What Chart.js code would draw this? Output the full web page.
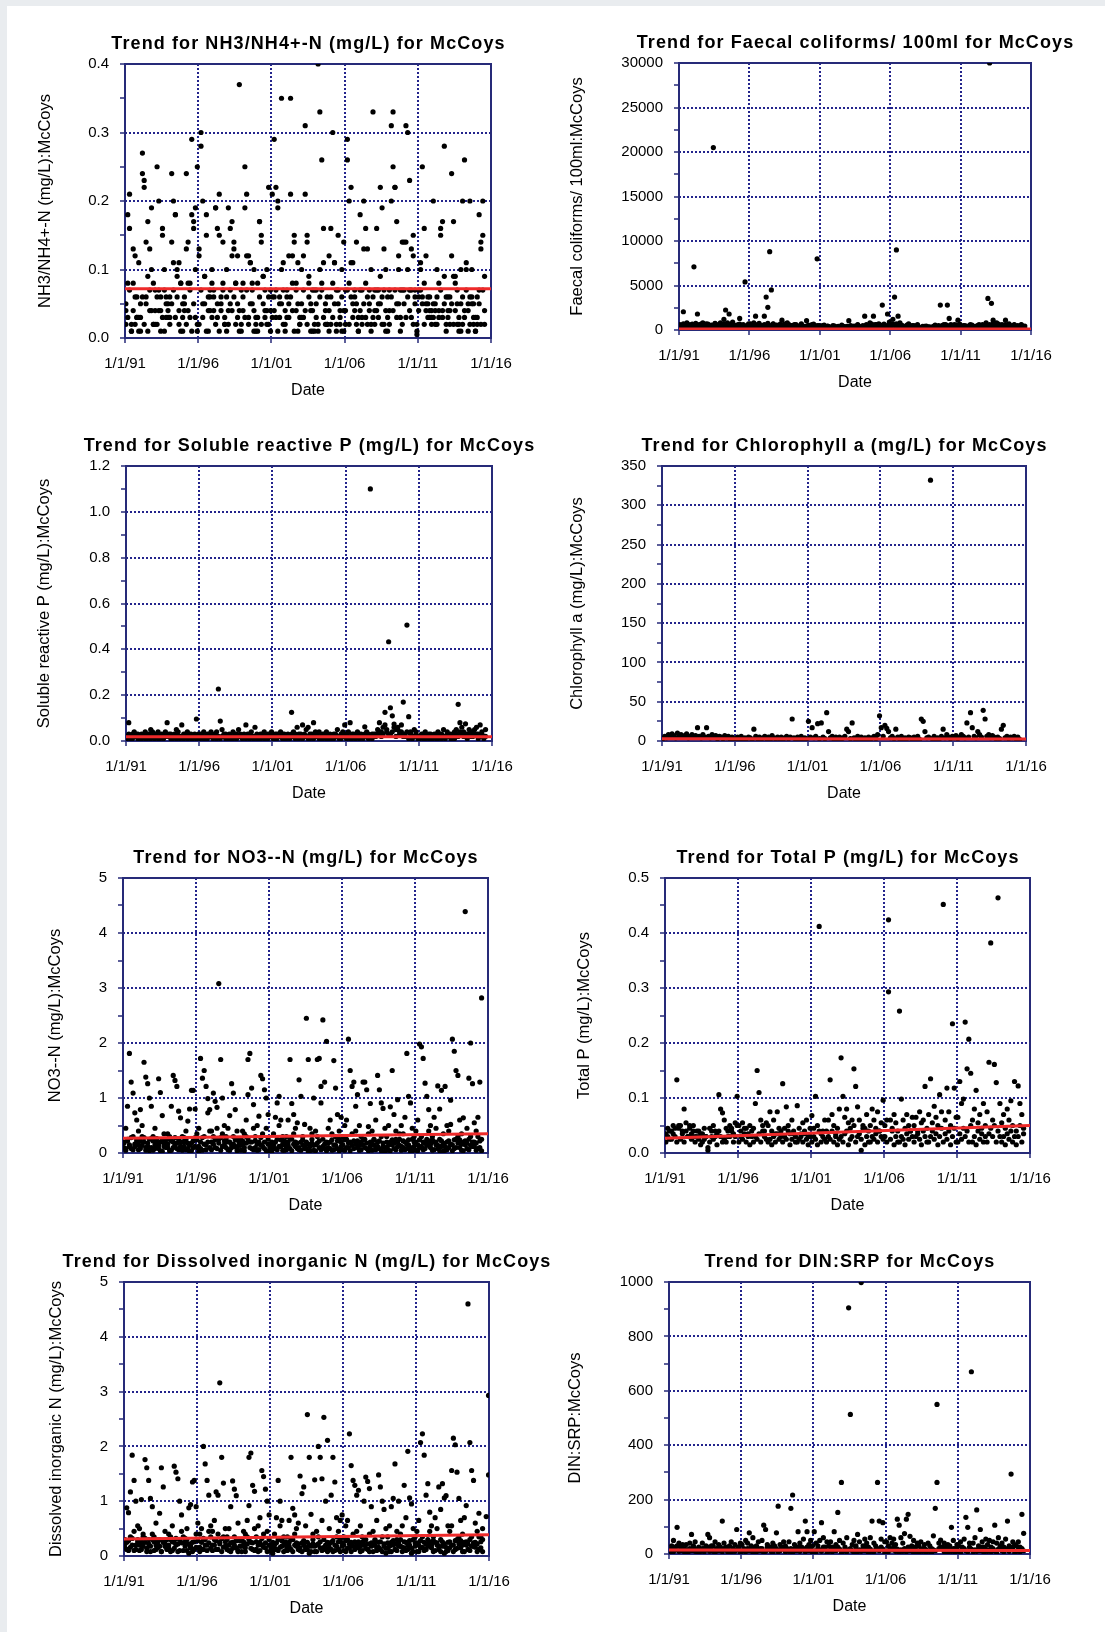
<!DOCTYPE html>
<html>
<head>
<meta charset="utf-8">
<script src="https://cdn.jsdelivr.net/npm/chart.js@4.4.1/dist/chart.umd.min.js"></script>
<style>
html,body{margin:0;padding:0;background:#e9ecef;width:1105px;height:1632px;overflow:hidden;}
#page{position:absolute;left:7px;top:6px;width:1098px;height:1626px;background:#ffffff;}
canvas{position:absolute;}
</style>
</head>
<body>
<div id="page"></div>
<script>
// ---------------- DATA ----------------
const xTickLabels = ['1/1/91','1/1/96','1/1/01','1/1/06','1/1/11','1/1/16'];
const trendYears = [1991, 2016];

// sampling dates (decimal years), 8 per year
const sampleDates = [
1991.06,1991.19,1991.31,1991.44,1991.56,1991.69,1991.81,1991.94,
1992.06,1992.19,1992.31,1992.44,1992.56,1992.69,1992.81,1992.94,
1993.06,1993.19,1993.31,1993.44,1993.56,1993.69,1993.81,1993.94,
1994.06,1994.19,1994.31,1994.44,1994.56,1994.69,1994.81,1994.94,
1995.06,1995.19,1995.31,1995.44,1995.56,1995.69,1995.81,1995.94,
1996.06,1996.19,1996.31,1996.44,1996.56,1996.69,1996.81,1996.94,
1997.06,1997.19,1997.31,1997.44,1997.56,1997.69,1997.81,1997.94,
1998.06,1998.19,1998.31,1998.44,1998.56,1998.69,1998.81,1998.94,
1999.06,1999.19,1999.31,1999.44,1999.56,1999.69,1999.81,1999.94,
2000.06,2000.19,2000.31,2000.44,2000.56,2000.69,2000.81,2000.94,
2001.06,2001.19,2001.31,2001.44,2001.56,2001.69,2001.81,2001.94,
2002.06,2002.19,2002.31,2002.44,2002.56,2002.69,2002.81,2002.94,
2003.06,2003.19,2003.31,2003.44,2003.56,2003.69,2003.81,2003.94,
2004.06,2004.19,2004.31,2004.44,2004.56,2004.69,2004.81,2004.94,
2005.06,2005.19,2005.31,2005.44,2005.56,2005.69,2005.81,2005.94,
2006.06,2006.19,2006.31,2006.44,2006.56,2006.69,2006.81,2006.94,
2007.06,2007.19,2007.31,2007.44,2007.56,2007.69,2007.81,2007.94,
2008.06,2008.19,2008.31,2008.44,2008.56,2008.69,2008.81,2008.94,
2009.06,2009.19,2009.31,2009.44,2009.56,2009.69,2009.81,2009.94,
2010.06,2010.19,2010.31,2010.44,2010.56,2010.69,2010.81,2010.94,
2011.06,2011.19,2011.31,2011.44,2011.56,2011.69,2011.81,2011.94,
2012.06,2012.19,2012.31,2012.44,2012.56,2012.69,2012.81,2012.94,
2013.06,2013.19,2013.31,2013.44,2013.56,2013.69,2013.81,2013.94,
2014.06,2014.19,2014.31,2014.44,2014.56,2014.69,2014.81,2014.94,
2015.06,2015.19,2015.31,2015.44,2015.56,2015.69,2015.81,2015.97
];

// NH3/NH4+-N (mg/L)
const nh3YLabels = ['0.0','0.1','0.2','0.3','0.4'];
const nh3Trend = [0.072, 0.072];
const nh3A = [
.04,.08,.21,.02,.13,.06,.03,.11,
.05,.27,.22,.14,.09,.04,.19,.02,
.02,.25,.07,.04,.16,.10,.03,.05,
.03,.24,.11,.18,.09,.04,.08,.01,
.05,.24,.14,.08,.29,.17,.10,.25,
.13,.30,.20,.09,.18,.06,.04,.10,
.04,.19,.16,.21,.06,.14,.02,.10,
.19,.05,.17,.14,.08,.03,.37,.02,
.04,.25,.21,.12,.11,.05,.10,.02,
.08,.17,.15,.09,.04,.10,.22,.07,
.21,.29,.22,.20,.06,.35,.11,.04,
.06,.12,.35,.08,.15,.04,.11,.02,
.05,.12,.31,.15,.09,.04,.07,.02,
.07,.40,.33,.26,.11,.05,.02,.12,
.16,.30,.11,.07,.15,.04,.10,.14,
.07,.29,.20,.22,.11,.06,.14,.03,
.18,.07,.20,.16,.13,.05,.10,.33,
.07,.16,.05,.22,.19,.13,.10,.03,
.07,.31,.33,.22,.17,.12,.07,.14,
.14,.31,.30,.23,.13,.12,.07,.02,
.07,.11,.25,.16,.12,.06,.04,.03,
.20,.05,.10,.04,.16,.03,.28,.06,
.04,.02,.24,.17,.09,.05,.01,.10,
.20,.26,.11,.05,.20,.10,.03,.01,
.02,.18,.14,.20,.09,null,null,null
];
const nh3B = [
.02,.18,.16,.01,.08,.12,.03,.01,
.01,.24,.23,.06,.17,.13,.10,.08,
.04,.06,.20,.01,.15,.07,.06,.03,
.06,.14,.20,.18,.10,.11,.08,.03,
.04,.13,.08,.03,.18,.16,.19,.01,
.12,.28,.05,.09,.15,.01,.06,.08,
.06,.19,.03,.15,.05,.08,.02,.01,
.04,.16,.12,.13,.08,.12,.04,.01,
.08,.19,.12,.03,.11,.08,.01,.01,
.01,.17,.14,.09,.03,.04,.02,.01,
.06,.06,.03,.19,.05,.10,.02,.01,
.03,.05,.21,.12,.14,.08,.01,.02,
.10,.03,.21,.14,.08,.05,.01,.01,
.03,.01,.10,.08,.16,.04,.02,.01,
.02,.08,.11,.02,.05,.03,.01,.01,
.02,.26,.08,.11,.05,.04,.02,.01,
.04,.03,.13,.08,.02,.07,.01,.03,
.02,.04,.07,.09,.06,.02,.01,.01,
.04,.20,.25,.22,.05,.10,.03,.02,
.05,.14,.10,.07,.03,.15,.06,.005,
.06,.10,.05,.08,.04,.05,.03,.02,
.03,.04,.02,.08,.15,.17,.09,.01,
.06,.04,.12,.09,.08,.02,.03,.01,
.02,.04,.10,.01,.06,.05,.02,.01,
.06,.07,.13,.15,.04,null,null,null
];
const nh3C = [
.05,.03,.07,.01,.04,.02,.06,.03,
.03,.06,.02,.05,.01,.07,.04,.02,
.07,.02,.04,.06,.03,.01,.05,.04,
.02,.05,.07,.03,.06,.02,.01,.05,
.06,.02,.04,.07,.01,.05,.03,.02,
.02,.07,.03,.05,.01,.04,.07,.03,
.07,.02,.05,.01,.04,.07,.03,.06,
.02,.07,.04,.06,.02,.05,.01,.07,
.06,.03,.07,.02,.05,.07,.04,.03,
.03,.06,.02,.05,.07,.02,.06,.04,
.03,.04,.07,.01,.03,.05,.07,.02,
.07,.03,.06,.04,.01,.07,.05,.03,
.03,.07,.04,.02,.06,.01,.04,.07,
.05,.02,.06,.07,.03,.02,.06,.04,
.06,.03,.05,.01,.07,.02,.06,.04,
.04,.07,.02,.06,.03,.07,.05,.01,
.07,.02,.05,.03,.06,.04,.02,.06,
.04,.07,.03,.05,.02,.07,.04,.06,
.02,.06,.04,.07,.03,.05,.01,.07,
.07,.03,.06,.04,.07,.02,.05,.01,
.04,.07,.06,.02,.05,.03,.06,.04,
.05,.02,.06,.03,.07,.04,.05,.02,
.03,.06,.05,.02,.04,.07,.02,.05,
.06,.03,.07,.04,.02,.06,.05,.03,
.03,.05,.02,.07,.02,null,null,null
];

// Faecal coliforms / 100ml
const faecalYLabels = ['0','5000','10000','15000','20000','25000','30000'];
const faecalTrend = [100, 100];
const faecal = [
150,500,2050,300,80,600,250,400,
7100,350,1800,200,650,100,450,300,
200,500,80,20500,700,300,150,800,
400,1200,2250,600,1800,300,900,150,
250,600,1300,400,200,5400,350,100,
500,300,800,1550,200,600,150,400,
1550,3700,2550,8800,4500,700,300,500,
400,200,1100,600,300,800,150,500,
300,600,200,450,100,700,350,250,
1050,400,200,600,300,150,8000,500,
300,500,100,200,400,150,300,80,
200,100,350,50,250,400,150,300,
1050,200,400,100,300,600,250,150,
300,1550,500,200,800,400,1550,600,
400,700,300,2800,500,200,1800,900,
600,1200,3700,9000,1550,800,500,300,
400,200,700,300,500,100,250,600,
150,300,100,400,200,350,80,250,
300,150,400,200,2800,500,300,600,
2800,1300,400,200,600,300,1100,500,
300,500,200,400,150,600,300,250,
200,400,600,150,300,500,800,3550,
30000,3000,1100,400,800,300,200,600,
300,1100,200,500,400,150,600,300,
200,400,550,300,150,null,null,null
];
const faecalB = [
600,300,700,450,800,200,550,650,
500,750,300,600,400,800,250,700,
650,400,550,300,750,450,600,350,
300,700,500,800,350,650,400,550,
450,250,650,350,600,300,500,700,
700,450,300,600,400,750,500,350,
600,350,750,500,300,650,400,550,
350,650,400,550,700,300,600,450,
500,300,600,350,450,550,250,400,
400,550,300,450,650,250,500,350,
250,400,550,300,450,350,200,500,
450,300,400,250,550,200,350,400,
350,500,250,450,300,550,400,250,
500,350,600,400,450,650,300,550,
600,450,550,350,650,500,400,700,
450,650,500,700,350,600,550,400,
350,550,300,450,250,500,350,400,
300,200,400,250,450,300,350,200,
400,550,300,500,350,450,600,250,
500,350,600,450,300,550,400,650,
400,250,500,350,450,300,550,400,
350,500,300,450,600,400,550,450,
600,450,700,350,550,650,400,500,
450,600,350,700,500,400,550,350,
500,350,600,400,450,null,null,null
];

// Soluble reactive P (mg/L)
const srpYLabels = ['0.0','0.2','0.4','0.6','0.8','1.0','1.2'];
const srpTrend = [0.019, 0.019];
const srpA = [
.02,.08,.01,.03,.04,.02,.03,.01,
.03,.02,.04,.01,.03,.05,.02,.03,
.02,.04,.01,.03,.02,.04,.08,.02,
.03,.01,.02,.05,.04,.02,.07,.03,
.02,.04,.03,.01,.02,.03,.096,.02,
.03,.02,.04,.01,.03,.02,.04,.01,
.02,.04,.227,.087,.05,.02,.03,.01,
.03,.01,.04,.02,.03,.05,.02,.01,
.02,.07,.03,.01,.04,.02,.06,.03,
.01,.03,.02,.04,.01,.03,.02,.04,
.02,.01,.03,.02,.04,.01,.03,.02,
.03,.02,.125,.04,.01,.06,.03,.02,
.07,.02,.05,.06,.01,.03,.08,.02,
.02,.04,.01,.03,.02,.04,.01,.03,
.01,.03,.02,.05,.01,.03,.04,.07,
.02,.04,.08,.01,.03,.02,.04,.01,
.03,.02,.062,.04,.01,1.10,.03,.02,
.03,.05,.08,.04,.06,.125,.05,.433,
.145,.11,.074,.05,.06,.04,.07,.17,
.03,.506,.106,.04,.02,.05,.03,.01,
.02,.03,.01,.04,.02,.03,.01,.02,
.03,.01,.04,.02,.03,.05,.02,.04,
.02,.03,.01,.04,.05,.16,.08,.06,
.04,.075,.03,.05,.02,.04,.03,.06,
.03,.07,.04,.02,.05,null,null,null
];
const srpB = [
.01,.03,.02,.01,.02,.03,.01,.02,
.01,.02,.01,.03,.02,.01,.04,.01,
.03,.01,.02,.02,.01,.03,.02,.03,
.01,.02,.03,.01,.02,.01,.02,.01,
.03,.01,.02,.03,.01,.02,.01,.03,
.01,.03,.01,.02,.01,.03,.02,.02,
.03,.01,.02,.01,.02,.03,.01,.02,
.01,.02,.01,.03,.01,.02,.03,.02,
.03,.01,.02,.03,.02,.01,.02,.01,
.02,.01,.03,.01,.02,.01,.03,.02,
.01,.03,.01,.03,.02,.03,.01,.01,
.02,.01,.03,.02,.03,.02,.01,.03,
.01,.03,.02,.01,.03,.02,.01,.04,
.03,.01,.02,.01,.03,.01,.02,.01,
.02,.01,.03,.02,.02,.01,.02,.03,
.01,.02,.01,.03,.02,.01,.02,.03,
.02,.01,.03,.02,.03,.02,.01,.03,
.02,.03,.04,.02,.03,.07,.04,.03,
.03,.04,.06,.02,.05,.03,.04,.02,
.02,.04,.01,.03,.01,.02,.04,.02,
.01,.02,.03,.01,.02,.01,.03,.01,
.02,.03,.01,.03,.01,.02,.01,.03,
.03,.01,.02,.01,.03,.02,.04,.03,
.02,.03,.01,.03,.04,.02,.05,.03,
.01,.02,.03,.01,.02,null,null,null
];

// Chlorophyll a
const chlYLabels = ['0','50','100','150','200','250','300','350'];
const chlTrend = [2.8, 2.6];
const chl = [
3,6,4,8,5,9,7,4,
10,6,8,5,7,9,4,6,
8,5,7,17,6,4,8,5,
17,6,4,8,5,7,3,6,
5,3,7,4,6,2,5,3,
2,5,3,6,2,4,3,5,
4,2,15,6,3,5,2,4,
6,3,5,2,7,4,3,5,
3,5,2,4,6,3,5,28,
4,2,5,3,6,2,4,3,
25,5,17,4,6,22,3,23,
5,3,36,12,4,6,2,5,
3,5,2,4,6,15,12,3,
23,4,2,6,3,5,2,4,
3,5,2,4,6,3,8,32,
17,6,20,16,12,4,6,3,
15,5,3,6,2,4,3,5,
4,2,5,3,6,2,28,25,
12,4,5,332,3,6,2,4,
3,6,15,4,8,5,3,6,
4,7,3,5,8,6,4,23,
5,36,17,6,4,12,8,5,
39,28,6,8,4,7,5,3,
5,3,15,20,4,6,3,5,
4,6,3,5,2,null,null,null
];

// NO3--N (mg/L)
const no3YLabels = ['0','1','2','3','4','5'];
const no3Trend = [0.27, 0.35];
const no3A = [
.20,.45,.85,1.81,1.29,1.09,.73,.60,
.40,.79,.50,1.65,1.38,1.26,1.0,.85,
.30,.45,.20,1.35,1.10,.68,.35,.25,
.35,.25,.85,1.41,1.32,1.21,.76,.64,
.30,.20,.40,.58,.80,1.14,1.14,.80,
.35,.45,1.72,1.36,1.50,1.21,.99,.79,
.40,1.09,.94,.83,3.08,1.70,1.0,.50,
.30,.45,.68,1.26,1.09,.79,.40,.20,
.25,.40,.35,.60,1.70,1.81,1.18,.88,
.30,.50,.67,1.41,1.35,1.15,1.0,.70,
.05,.20,.35,.65,.91,1.03,.60,.30,
.15,.30,.60,1.70,.90,.70,.45,.55,
1.33,1.03,.30,.52,2.45,1.70,.45,.25,
1.0,.40,1.70,1.72,1.21,2.42,1.29,2.03,
.45,.60,.35,1.68,1.18,.70,.40,.65,
.30,.50,.60,2.07,1.50,1.21,1.29,.85,
1.06,.50,.30,1.29,1.29,1.15,.48,.90,
.40,.25,.60,1.41,1.15,.91,.81,.45,
.30,.50,.84,1.50,.70,.40,.97,.25,
.50,.35,.65,1.81,1.03,.91,.45,.30,
.40,.60,1.98,1.93,1.72,1.27,1.03,.79,
.50,.30,.65,.45,1.22,.80,1.14,.35,
1.21,.50,.40,.96,2.07,1.85,1.50,1.41,
.60,.35,.64,4.39,.45,1.36,2.0,1.26,
.55,.40,.65,1.29,2.82,null,null,null
];
const no3B = [
.10,.05,.25,.15,.08,.30,.12,.20,
.15,.08,.30,.20,.05,.12,.25,.10,
.05,.15,.10,.08,.20,.03,.12,.18,
.10,.30,.05,.20,.15,.08,.25,.12,
.05,.12,.25,.08,.03,.18,.10,.28,
.10,.02,.20,.05,.30,.15,.73,.40,
.20,.30,.10,.45,.25,.05,.35,.15,
.10,.20,.05,.15,.30,.12,.08,.25,
.05,.15,.10,.30,1.06,.20,.08,.45,
.10,.05,.20,.15,.35,.08,.45,.25,
.10,.02,.15,.08,.25,.50,.12,.05,
.05,.10,.20,.08,.25,.35,.12,.18,
.10,.05,.15,.08,.20,.03,.12,.35,
.05,.15,.30,.10,.91,.25,.08,.20,
.10,.20,.05,.15,.30,.08,.25,.12,
.15,.05,.25,.10,.20,.35,.08,.40,
.10,.05,.20,.15,.25,.08,.35,.12,
.05,.15,.10,.20,.08,.30,.12,.03,
.10,.05,.20,.15,.08,.25,.12,.35,
.05,.10,.20,.08,.15,.03,.25,.12,
.05,.15,.10,.30,.20,.08,.25,.40,
.10,.05,.20,.15,.08,.25,.12,.03,
.05,.20,.10,.52,.15,.08,.25,.30,
.10,.05,.20,.15,.08,.25,.30,.12,
.20,.05,.30,.10,.25,null,null,null
];
const no3C = [
.18,.08,.22,.12,.28,.06,.16,.24,
.06,.22,.14,.28,.10,.18,.04,.26,
.22,.08,.26,.14,.04,.24,.18,.10,
.16,.04,.22,.10,.28,.18,.06,.20,
.20,.28,.06,.18,.14,.04,.22,.12,
.24,.12,.08,.28,.16,.06,.20,.10,
.06,.16,.24,.08,.18,.28,.12,.22,
.26,.06,.20,.10,.16,.24,.04,.14,
.14,.22,.04,.18,.26,.10,.20,.06,
.22,.16,.06,.28,.12,.20,.04,.16,
.04,.14,.08,.20,.06,.12,.24,.16,
.22,.06,.14,.26,.04,.16,.20,.08,
.06,.20,.24,.12,.08,.16,.04,.18,
.14,.04,.18,.22,.06,.12,.16,.04,
.18,.08,.24,.06,.14,.22,.04,.20,
.06,.24,.10,.18,.04,.14,.22,.16,
.22,.14,.06,.24,.10,.18,.04,.20,
.16,.24,.06,.12,.22,.04,.18,.10,
.20,.14,.04,.24,.18,.06,.20,.14,
.12,.22,.06,.16,.24,.10,.04,.20,
.20,.04,.24,.12,.06,.18,.14,.22,
.16,.24,.06,.20,.14,.04,.22,.18,
.12,.06,.22,.16,.04,.24,.10,.18,
.24,.16,.04,.22,.18,.06,.14,.20,
.12,.18,.08,.22,.04,null,null,null
];

// Total P (mg/L)
const tpYLabels = ['0.0','0.1','0.2','0.3','0.4','0.5'];
const tpTrend = [0.027, 0.050];
const tpA = [
.035,.045,.025,.04,.05,.03,.133,.045,
.05,.04,.08,.055,.03,.045,.035,.05,
.03,.04,.025,.035,.02,.045,.03,.01,
.045,.03,.05,.04,.035,.106,.08,.073,
.06,.045,.03,.05,.04,.035,.055,.103,
.05,.04,.055,.035,.045,.03,.05,.04,
.045,.09,.15,.11,.06,.05,.04,.055,
.05,.075,.04,.06,.035,.075,.045,.03,
.126,.045,.084,.05,.035,.06,.04,.03,
.086,.045,.035,.055,.04,.06,.03,.045,
.068,.045,.103,.05,.412,.035,.04,.06,
.04,.06,.133,.07,.05,.035,.045,.08,
.173,.103,.065,.08,.055,.045,.06,.153,
.121,.084,.06,.005,.05,.045,.07,.04,
.05,.08,.06,.045,.075,.04,.055,.096,
.05,.06,.424,.06,.045,.07,.055,.04,
.258,.098,.06,.045,.07,.05,.04,.065,
.05,.065,.04,.075,.055,.06,.121,.045,
.07,.135,.055,.085,.065,.05,.106,.075,
.452,.06,.118,.075,.05,.235,.118,.065,
.065,.13,.09,.098,.238,.153,.207,.145,
.06,.08,.114,.055,.07,.045,.09,.05,
.075,.165,.382,.06,.161,.128,.464,.09,
.055,.07,.045,.08,.06,.095,.05,.13,
.015,.122,.09,.07,.045,null,null,null
];
const tpB = [
.02,.03,.04,.025,.035,.045,.02,.05,
.025,.035,.02,.04,.03,.05,.025,.04,
.02,.03,.04,.015,.035,.025,.03,.005,
.02,.04,.025,.03,.015,.04,.03,.02,
.025,.02,.04,.03,.045,.02,.03,.05,
.02,.03,.025,.045,.02,.035,.015,.03,
.02,.03,.025,.035,.02,.04,.03,.025,
.02,.025,.015,.03,.02,.035,.025,.04,
.02,.03,.025,.04,.015,.025,.035,.02,
.02,.025,.03,.02,.035,.025,.015,.03,
.02,.03,.025,.015,.04,.02,.03,.025,
.02,.03,.025,.04,.02,.03,.015,.025,
.03,.02,.035,.04,.015,.025,.03,.05,
.02,.03,.035,.025,.045,.015,.03,.02,
.02,.03,.025,.035,.02,.04,.03,.025,
.03,.02,.293,.025,.04,.015,.03,.02,
.02,.03,.025,.015,.035,.025,.04,.03,
.02,.03,.035,.025,.015,.04,.03,.02,
.02,.03,.04,.025,.035,.015,.03,.045,
.02,.035,.025,.04,.015,.03,.045,.02,
.02,.035,.025,.045,.03,.04,.02,.05,
.02,.03,.015,.04,.025,.035,.02,.03,
.02,.035,.045,.03,.05,.02,.04,.03,
.02,.03,.015,.035,.025,.04,.02,.03,
.04,.03,.05,.02,.035,null,null,null
];

// Dissolved inorganic N (mg/L)
const dinYLabels = ['0','1','2','3','4','5'];
const dinTrend = [0.31, 0.39];
const dinA = [
.30,.88,.79,1.17,1.84,1.38,1.0,.55,
.50,1.03,.40,1.76,1.61,1.38,1.05,.90,
.35,.60,.25,.78,1.61,1.26,.45,.30,
.40,.30,.55,1.64,1.53,1.41,1.0,.75,
.35,.25,.50,.88,.94,1.35,1.38,.90,
.60,.40,.50,2.0,1.68,1.38,1.11,.55,
.45,.65,1.17,1.11,3.16,1.80,1.33,.50,
.35,.50,.90,1.37,1.22,1.10,.60,.30,
.30,.45,.40,.65,1.80,1.88,1.29,1.18,
.35,.55,.70,1.56,1.45,1.22,1.0,.75,
.10,.25,.40,.70,1.38,1.0,.65,.35,
.20,.35,.65,1.80,.87,.75,.50,.60,
1.46,1.14,1.26,.55,2.58,1.80,.76,.30,
1.39,.45,2.0,1.80,1.41,2.53,1.0,2.11,
.50,1.11,1.80,1.35,.70,.45,.65,.75,
.35,.55,.65,2.23,1.65,1.38,1.29,1.11,
1.2,.55,.35,1.0,1.44,1.36,1.23,.90,
.45,.30,.65,1.48,1.26,1.0,.85,.50,
.35,.55,.90,1.05,1.68,.45,1.0,.30,
.55,1.29,.70,1.91,1.06,.95,.50,.35,
.45,.65,2.07,2.23,1.84,1.11,1.32,.80,
.55,.35,.70,.50,1.26,.85,1.32,1.06,
1.10,.55,.45,1.56,2.15,2.03,1.53,1.05,
.65,.40,.70,.92,4.6,2.07,1.56,1.38,
.60,.45,.78,.35,.50,null,null,2.93
];
const dinB = [
.15,.25,.10,.35,.20,.45,.12,.30,
.20,.12,.35,.25,.08,.30,.18,.40,
.10,.20,.15,.30,.08,.25,.18,.12,
.15,.35,.10,.25,.20,.08,.30,.45,
.10,.18,.30,.05,.15,.25,.12,.40,
.15,.08,.25,.12,.30,.20,.45,.35,
.20,.30,.12,.40,.25,.08,.35,.18,
.12,.20,.08,.25,.35,.15,.10,.28,
.08,.20,.15,.35,.92,.25,.12,.50,
.12,.08,.25,.20,.40,.15,.45,.30,
.15,.05,.20,.12,.30,.55,.18,.08,
.10,.15,.25,.12,.30,.40,.18,.22,
.15,.08,.20,.12,.25,.05,.18,.40,
.08,.20,.35,.15,.65,.30,.12,.25,
.15,.25,.08,.20,.35,.12,.30,.18,
.20,.08,.30,.15,.25,.40,.12,.45,
.15,.08,.25,.20,.30,.12,.40,.18,
.08,.20,.15,.25,.12,.35,.18,.05,
.15,.08,.25,.20,.12,.30,.18,.40,
.08,.15,.25,.12,.20,.05,.30,.18,
.08,.20,.15,.35,.25,.12,.30,.45,
.15,.08,.25,.20,.12,.30,.18,.05,
.08,.25,.15,.55,.20,.12,.30,.35,
.15,.08,.25,.20,.12,.30,.35,.18,
.25,.08,.35,.15,.30,null,.72,1.48
];
const dinC = [
.22,.12,.28,.16,.32,.10,.20,.26,
.10,.26,.18,.32,.14,.22,.08,.30,
.26,.12,.30,.18,.08,.28,.22,.14,
.20,.08,.26,.14,.32,.22,.10,.24,
.24,.32,.10,.22,.18,.08,.26,.16,
.28,.16,.12,.32,.20,.10,.24,.14,
.10,.20,.28,.12,.22,.32,.16,.26,
.30,.10,.24,.14,.20,.28,.08,.18,
.18,.26,.08,.22,.30,.14,.24,.10,
.26,.20,.10,.32,.16,.24,.08,.20,
.08,.18,.12,.24,.10,.16,.28,.20,
.26,.10,.18,.30,.08,.20,.24,.12,
.10,.24,.28,.16,.12,.20,.08,.22,
.18,.08,.22,.26,.10,.16,.20,.08,
.22,.12,.28,.10,.18,.26,.08,.24,
.10,.28,.14,.22,.08,.18,.26,.20,
.26,.18,.10,.28,.14,.22,.08,.24,
.20,.28,.10,.16,.26,.08,.22,.14,
.24,.18,.08,.28,.22,.10,.24,.18,
.16,.26,.10,.20,.28,.14,.08,.24,
.24,.08,.28,.16,.10,.22,.18,.26,
.20,.28,.10,.24,.18,.08,.26,.22,
.16,.10,.26,.20,.08,.28,.14,.22,
.28,.20,.08,.26,.22,.10,.18,.24,
.16,.22,.12,.26,.08,null,null,null
];

// DIN:SRP
const ratioYLabels = ['0','200','400','600','800','1000'];
const ratioTrend = [15, 13];
const ratioA = [
10,30,50,25,98,40,15,35,
20,35,15,40,72,25,45,10,
25,10,40,20,30,72,60,15,
30,45,20,35,15,121,40,25,
15,30,45,20,35,90,25,40,
35,20,50,40,78,30,60,25,
30,45,20,50,106,90,35,25,
25,40,30,78,176,35,20,45,
30,20,45,168,217,35,25,82,
40,25,55,121,82,35,50,30,
82,40,30,50,115,60,25,45,
30,45,25,82,35,153,50,263,
40,25,60,905,513,35,50,30,
72,45,998,30,55,40,25,60,
121,40,30,263,121,55,115,45,
45,30,60,40,55,35,128,106,
60,40,75,128,146,65,30,50,
25,40,30,45,20,35,15,40,
30,20,67,168,550,40,51,25,
40,25,35,30,98,50,20,35,
30,45,25,55,135,98,40,670,
40,60,162,30,90,45,25,55,
35,50,25,45,106,40,60,30,
40,25,55,121,30,294,45,35,
30,45,25,146,76,null,null,null
];
const ratioB = [
5,20,8,15,30,10,25,12,
8,15,5,20,12,30,10,18,
5,12,20,8,15,25,10,30,
10,5,18,12,25,8,20,15,
8,12,5,20,10,15,25,6,
10,15,8,20,12,25,5,18,
8,15,12,20,5,10,25,18,
10,5,15,20,8,12,25,18,
8,15,10,20,5,18,12,25,
10,15,20,8,25,12,18,5,
12,8,20,15,10,25,18,5,
10,15,8,20,12,25,18,5,
10,18,8,15,20,12,5,25,
8,15,10,20,12,25,5,18,
10,8,15,20,12,25,18,5,
12,8,20,15,25,10,18,5,
15,10,20,8,25,12,18,5,
8,12,5,15,10,20,6,12,
10,5,15,12,263,20,25,18,
8,12,5,15,10,20,6,18,
10,5,15,20,12,8,25,18,
8,15,10,20,12,25,5,18,
10,15,8,20,12,5,18,25,
12,8,20,15,10,18,25,5,
10,15,8,20,12,null,null,null
];

// ---------------- RENDERING ----------------
const NAVY = '#262a78';
const GRIDC = '#23248c';
const RED = '#ee2a2a';
const FAMILY = "'Liberation Sans', Arial, Helvetica, sans-serif";
Chart.defaults.font.family = FAMILY;
Chart.defaults.color = '#000';

function toPoints(vals) {
  const out = [];
  vals.forEach((v, i) => {
    if (v !== null && v !== undefined && i < sampleDates.length) out.push({x: sampleDates[i], y: v});
  });
  return out;
}

function makePanel(p) {
  const PADR = 72;
  const cLeft = Math.round(p.YT - 11);
  const cTop = p.T - 36;
  const cRight = p.R + PADR;
  const cBottom = Math.round(p.B + 61.6);
  const W = cRight - cLeft, H = cBottom - cTop;
  const yW = p.L - cLeft;
  const xH = cBottom - p.B;
  const cv = document.createElement('canvas');
  cv.width = W; cv.height = H;
  cv.style.left = cLeft + 'px'; cv.style.top = cTop + 'px';
  cv.style.width = W + 'px'; cv.style.height = H + 'px';
  document.body.appendChild(cv);

  const datasets = [{
    type: 'line',
    data: trendYears.map((x, i) => ({x: x, y: p.trend[i]})),
    borderColor: RED, backgroundColor: RED, borderWidth: 3,
    pointRadius: 0, fill: false, tension: 0
  }];
  p.series.forEach(arr => datasets.push({
    type: 'scatter', data: toPoints(arr),
    backgroundColor: '#000', borderColor: '#000',
    pointRadius: 2.6, pointHoverRadius: 2.6, pointBorderWidth: 0
  }));
  const nY = p.yLabels.length * 2 - 1;

  const framePlugin = {
    id: 'frame',
    beforeDatasetsDraw(chart) {
      const {ctx, chartArea: a} = chart;
      ctx.save();
      ctx.strokeStyle = NAVY; ctx.lineWidth = 2;
      ctx.strokeRect(a.left, a.top, a.right - a.left, a.bottom - a.top);
      ctx.restore();
    }
  };
  const titlePlugin = {
    id: 'panelTitle',
    afterDraw(chart) {
      const {ctx, chartArea: a} = chart;
      ctx.save();
      ctx.font = 'bold 18px ' + FAMILY;
      try { ctx.letterSpacing = '1.1px'; } catch (e) {}
      ctx.fillStyle = '#000';
      ctx.textAlign = 'center';
      ctx.textBaseline = 'middle';
      ctx.fillText(p.title, (a.left + a.right) / 2 + 0.5, a.top - 20);
      ctx.restore();
    }
  };

  new Chart(cv, {
    type: 'scatter',
    data: {datasets: datasets},
    plugins: [framePlugin, titlePlugin],
    options: {
      responsive: false, animation: false, devicePixelRatio: 1, events: [],
      layout: {padding: {top: 36, right: PADR, left: 0, bottom: 0}},
      plugins: {legend: {display: false}, tooltip: {enabled: false}, title: {display: false}},
      scales: {
        x: {
          type: 'linear', position: 'bottom', min: 1991, max: 2016,
          afterFit(s) { s.height = xH; },
          ticks: {stepSize: 5, autoSkip: false, maxRotation: 0, minRotation: 0, padding: 12,
                  font: {size: 15}, color: '#000',
                  callback: (v, i) => xTickLabels[i] !== undefined ? xTickLabels[i] : ''},
          grid: {color: c => (c.index > 0 && c.index < 5) ? GRIDC : 'rgba(0,0,0,0)',
                 lineWidth: 2, tickLength: 5, tickColor: NAVY, tickWidth: 1.5},
          border: {display: false, dash: [2, 2]},
          title: {display: true, text: 'Date', font: {size: 16}, color: '#000', padding: 0}
        },
        y: {
          type: 'linear', position: 'left', min: p.yMin, max: p.yMax,
          afterFit(s) { s.width = yW; },
          ticks: {stepSize: p.yStep, autoSkip: false, padding: 11, font: {size: 15}, color: '#000',
                  callback: (v, i) => (i % 2 === 0 && p.yLabels[i / 2] !== undefined) ? p.yLabels[i / 2] : ''},
          grid: {color: c => (c.index % 2 === 0 && c.index > 0 && c.index < nY - 1) ? GRIDC : 'rgba(0,0,0,0)',
                 lineWidth: 2, tickLength: 5, tickColor: NAVY, tickWidth: 1.5},
          border: {display: false, dash: [2, 2]},
          title: {display: true, text: p.yTitle, font: {size: 16.5}, color: '#000', padding: 0}
        }
      }
    }
  });
}

const panels = [
  {L:125, T:64, R:491, B:338, YT:47, title:'Trend for NH3/NH4+-N (mg/L) for McCoys', yTitle:'NH3/NH4+-N (mg/L):McCoys',
   yMin:0, yMax:0.4, yStep:0.05, yLabels:nh3YLabels, series:[nh3A, nh3B, nh3C], trend:nh3Trend},
  {L:679, T:63, R:1031, B:330, YT:578.6, title:'Trend for Faecal coliforms/ 100ml for McCoys', yTitle:'Faecal coliforms/ 100ml:McCoys',
   yMin:0, yMax:30000, yStep:2500, yLabels:faecalYLabels, series:[faecal, faecalB], trend:faecalTrend},
  {L:126, T:466, R:492, B:741, YT:46, title:'Trend for Soluble reactive P (mg/L) for McCoys', yTitle:'Soluble reactive P (mg/L):McCoys',
   yMin:0, yMax:1.2, yStep:0.1, yLabels:srpYLabels, series:[srpA, srpB], trend:srpTrend},
  {L:662, T:466, R:1026, B:741, YT:578.6, title:'Trend for Chlorophyll a (mg/L) for McCoys', yTitle:'Chlorophyll a (mg/L):McCoys',
   yMin:0, yMax:350, yStep:25, yLabels:chlYLabels, series:[chl], trend:chlTrend},
  {L:123, T:878, R:488, B:1153, YT:57, title:'Trend for NO3--N (mg/L) for McCoys', yTitle:'NO3--N (mg/L):McCoys',
   yMin:0, yMax:5, yStep:0.5, yLabels:no3YLabels, series:[no3A, no3B, no3C], trend:no3Trend},
  {L:665, T:878, R:1030, B:1153, YT:586, title:'Trend for Total P (mg/L) for McCoys', yTitle:'Total P (mg/L):McCoys',
   yMin:0, yMax:0.5, yStep:0.05, yLabels:tpYLabels, series:[tpA, tpB], trend:tpTrend},
  {L:124, T:1282, R:489, B:1556, YT:57.5, title:'Trend for Dissolved inorganic N (mg/L) for McCoys', yTitle:'Dissolved inorganic N (mg/L):McCoys',
   yMin:0, yMax:5, yStep:0.5, yLabels:dinYLabels, series:[dinA, dinB, dinC], trend:dinTrend},
  {L:669, T:1282, R:1030, B:1554, YT:577, title:'Trend for DIN:SRP for McCoys', yTitle:'DIN:SRP:McCoys',
   yMin:0, yMax:1000, yStep:100, yLabels:ratioYLabels, series:[ratioA, ratioB], trend:ratioTrend}
];

panels.forEach(makePanel);
</script>
</body>
</html>
